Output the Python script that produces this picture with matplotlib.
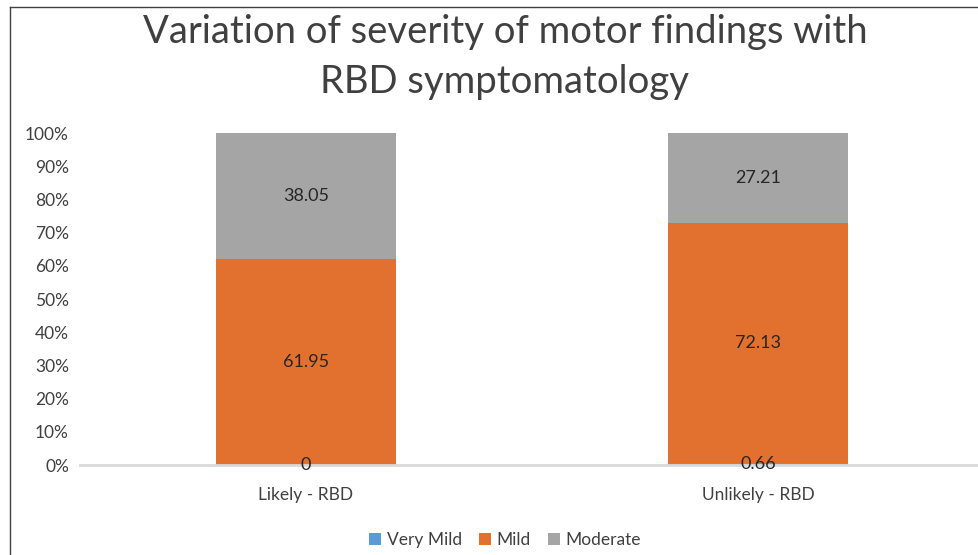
import matplotlib
matplotlib.use("Agg")
import matplotlib.pyplot as plt
import numpy as np

# ── dados ──
categorias = ["Likely - RBD", "Unlikely - RBD"]
series = ["Very Mild", "Mild", "Moderate"]
very_mild = [0, 0.66]
mild = [61.95, 72.13]
moderate = [38.05, 27.21]
yticks = [0, 10, 20, 30, 40, 50, 60, 70, 80, 90, 100]

CORES = ["#5B9BD5", "#E2702F", "#A5A5A5"]

plt.rcParams["font.family"] = ["Lato", "DejaVu Sans"]

fig = plt.figure(figsize=(9.79, 5.55), dpi=100)
ax = fig.add_axes([80 / 979, 1 - 465 / 555, 904 / 979, 332 / 555])

x = np.arange(len(categorias))
larg = 0.4
base = np.zeros(len(categorias))
for nome, vals, cor in zip(series, [very_mild, mild, moderate], CORES):
    ax.bar(x, vals, larg, bottom=base, color=cor, label=nome, zorder=2)
    for xi, b, v in zip(x, base, vals):
        ax.text(xi, b + v / 2, f"{v:g}", ha="center", va="center",
                fontsize=13, color="#262626", zorder=3)
    base = base + np.array(vals)

ax.set_xlim(-0.5, 1.5)
ax.set_ylim(0, 100)
ax.set_yticks(yticks)
ax.set_yticklabels([f"{t}%" for t in yticks], fontsize=12.5, color="#404040")
ax.set_xticks(x)
ax.set_xticklabels(categorias, fontsize=12.5, color="#404040")
ax.tick_params(length=0, pad=8)
ax.tick_params(axis="x", pad=16)
for s in ["top", "right", "left"]:
    ax.spines[s].set_visible(False)
ax.spines["bottom"].set_color("#D9D9D9")
ax.spines["bottom"].set_linewidth(2)

fig.text(505 / 979, 1 - 57 / 555,
         "Variation of severity of motor findings with\nRBD symptomatology",
         ha="center", va="center", fontsize=27.5, color="#404040", linespacing=1.45)

fig.legend(loc="center", bbox_to_anchor=(505 / 979, 1 - 540 / 555), ncol=3,
           frameon=False, fontsize=12.5, handlelength=0.7, handleheight=0.7,
           columnspacing=1.0, handletextpad=0.3, labelcolor="#404040")

# borda do gráfico (cortada à direita e embaixo)
fig.add_artist(plt.Line2D([10 / 979, 10 / 979], [0, 1 - 7 / 555],
                          transform=fig.transFigure, color="#404040", lw=1))
fig.add_artist(plt.Line2D([10 / 979, 1], [1 - 7 / 555, 1 - 7 / 555],
                          transform=fig.transFigure, color="#404040", lw=1))

fig.savefig("out.png", dpi=100)
